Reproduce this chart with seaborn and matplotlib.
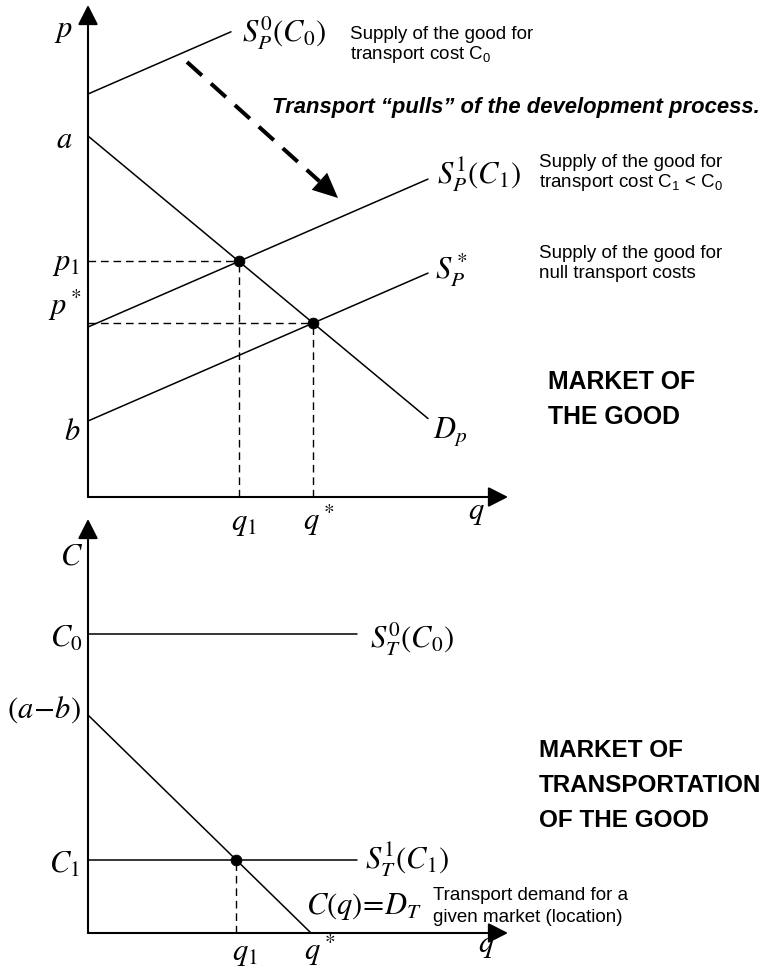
import numpy as np
import pandas as pd
import matplotlib
matplotlib.use("Agg")
import matplotlib.pyplot as plt
import seaborn as sns

# market of the good (top panel) - arbitrary units
q_max, p_max = 4.2, 4.92
a, b = 3.61, 0.76
supply_names = ["S0", "S1", "Sstar"]
supply_intercepts = [4.03, 1.70, 0.76]
supply_ends = [1.43, 3.40, 3.40]
supply_slope = 0.435
demand_slope = -0.831
demand_end = 3.40

# market of transportation (bottom panel)
c_max = 4.14
C0, C1 = 2.99, 0.73
a_minus_b = 2.18
q_star_T = 2.23
flat_end = 2.69

# the big dashed "pulls" arrow (start / tip, top panel units)
pull_start = [0.99, 4.35]
pull_tip = [2.50, 2.99]

sns.set_style("white")
plt.rcParams["font.family"] = ["Liberation Sans", "DejaVu Sans"]
plt.rcParams["text.color"] = "black"
plt.rcParams["mathtext.fontset"] = "custom"
plt.rcParams["mathtext.rm"] = "Liberation Sans"
plt.rcParams["mathtext.it"] = "Liberation Sans:italic"
plt.rcParams["mathtext.bf"] = "Liberation Sans:bold"

W, H = 778, 975
fig = plt.figure(figsize=(W / 100, H / 100), dpi=100)

top = fig.add_axes([88 / W, 1 - 497 / H, 420 / W, 492 / H])
bot = fig.add_axes([88 / W, 1 - 933 / H, 420 / W, 414 / H])
top.set_xlim(0, q_max)
top.set_ylim(0, p_max)
bot.set_xlim(0, q_max)
bot.set_ylim(0, c_max)
for ax in (top, bot):
    ax.set_axis_off()

dash = (0, (5.5, 3.5))


def axis_arrows(ax, xm, ym):
    kw = dict(arrowstyle="-|>,head_length=0.55,head_width=0.28", lw=1.5,
              color="black", shrinkA=0, shrinkB=0, mutation_scale=22)
    ax.annotate("", xy=(xm, 0), xytext=(0, 0), arrowprops=kw, annotation_clip=False)
    ax.annotate("", xy=(0, ym), xytext=(0, 0), arrowprops=kw, annotation_clip=False)


def mlabel(ax, x, y, s, ha="left", va="center", size=22):
    ax.text(x, y, s, ha=ha, va=va, fontsize=size, math_fontfamily="stix",
            color="black", clip_on=False)


def ftext(x, y, lines, pitch, size=13.5, **kw):
    # plain text block, one baseline per line, pixel coords
    for i, line in enumerate(lines):
        fig.text(x / W, 1 - (y + i * pitch) / H, line, fontsize=size,
                 ha="left", va="baseline", color="black", **kw)


# ---------- top panel: market of the good
rows = []
for name, c, qe in zip(supply_names, supply_intercepts, supply_ends):
    rows += [(name, 0.0, c), (name, qe, c + supply_slope * qe)]
rows += [("D", 0.0, a), ("D", demand_end, a + demand_slope * demand_end)]
good = pd.DataFrame(rows, columns=["curve", "q", "p"])
sns.lineplot(data=good, x="q", y="p", units="curve", estimator=None, sort=False,
             color="black", lw=1.1, ax=top, legend=False, clip_on=False)

q1 = (a - supply_intercepts[1]) / (supply_slope - demand_slope)
p1 = a + demand_slope * q1
qs = (a - b) / (supply_slope - demand_slope)
ps = a + demand_slope * qs

top.hlines([p1, ps], 0, [q1, qs], colors="black", lw=1.0, linestyles=dash)
top.vlines([q1, qs], 0, [p1, ps], colors="black", lw=1.0, linestyles=dash)
sns.scatterplot(x=[q1, qs], y=[p1, ps], color="black", s=60, ax=top,
                zorder=5, clip_on=False, edgecolor="black")
axis_arrows(top, q_max, p_max)

# dashed arrow "transport pulls"
d = np.array(pull_tip) - np.array(pull_start)
u = d / np.hypot(*d)
head_len, head_w = 0.25, 0.23
base = np.array(pull_tip) - head_len * u
top.plot([pull_start[0], base[0]], [pull_start[1], base[1]], color="black",
         lw=2.9, linestyle=(0, (5, 3)), solid_capstyle="butt", clip_on=False)
top.arrow(base[0], base[1], head_len * u[0], head_len * u[1], width=0,
          head_width=head_w, head_length=head_len, length_includes_head=True,
          fc="black", ec="black", lw=0, clip_on=False)

mlabel(top, -0.15, 4.67, "$p$", ha="right")
mlabel(top, -0.15, a - 0.04, "$a$", ha="right")
mlabel(top, -0.08, p1 - 0.02, "$p_1$", ha="right")
mlabel(top, -0.06, ps + 0.18, "$p^*$", ha="right")
mlabel(top, -0.08, b - 0.11, "$b$", ha="right")
mlabel(top, q1 + 0.05, -0.33, "$q_1$", ha="center", va="baseline")
mlabel(top, qs + 0.06, -0.33, "$q^*$", ha="center", va="baseline")
mlabel(top, 3.88, -0.22, "$q$", ha="center", va="baseline")
mlabel(top, 1.54, 4.64, r"$S_P^0\left(C_0\right)$")
mlabel(top, 3.49, 3.22, r"$S_P^1\left(C_1\right)$")
mlabel(top, 3.47, 2.27, "$S_P^*$")
mlabel(top, 3.45, 0.65, "$D_p$")

# ---------- bottom panel: market of transportation
transport = pd.DataFrame({
    "curve": ["S0", "S0", "S1", "S1", "D", "D"],
    "q": [0, flat_end, 0, flat_end, 0, q_star_T],
    "C": [C0, C0, C1, C1, a_minus_b, 0],
})
sns.lineplot(data=transport, x="q", y="C", units="curve", estimator=None, sort=False,
             color="black", lw=1.1, ax=bot, legend=False, clip_on=False)
q1T = (a_minus_b - C1) * q_star_T / a_minus_b
bot.vlines([q1T], 0, [C1], colors="black", lw=1.0, linestyles=dash)
sns.scatterplot(x=[q1T], y=[C1], color="black", s=60, ax=bot, zorder=5,
                clip_on=False, edgecolor="black")
axis_arrows(bot, q_max, c_max)

mlabel(bot, -0.05, 3.76, "$C$", ha="right")
mlabel(bot, -0.06, C0 - 0.05, "$C_0$", ha="right")
mlabel(bot, -0.07, a_minus_b + 0.05, r"$\left(a\!-\!b\right)$", ha="right")
mlabel(bot, -0.08, C1 - 0.05, "$C_1$", ha="right")
mlabel(bot, q1T + 0.09, -0.27, "$q_1$", ha="center", va="baseline")
mlabel(bot, q_star_T + 0.09, -0.27, "$q^*$", ha="center", va="baseline")
mlabel(bot, 3.98, -0.19, "$q$", ha="center", va="baseline")
mlabel(bot, 2.82, C0 - 0.05, r"$S_T^0\left(C_0\right)$")
mlabel(bot, 2.77, C1, r"$S_T^1\left(C_1\right)$")
mlabel(bot, 2.18, 0.27, r"$C\left(q\right)\!=\!D_T$")

# ---------- free text
ftext(350, 39, ["Supply of the good for", "transport cost C$_0$"], 20)
ftext(539, 167, ["Supply of the good for", "transport cost C$_1$ < C$_0$"], 20)
ftext(539, 258, ["Supply of the good for", "null transport costs"], 20)
ftext(433, 900, ["Transport demand for a", "given market (location)"], 22)
ftext(272, 113, ["Transport \u201cpulls\u201d of the development process."], 0,
      size=15.8, fontweight="bold", fontstyle="italic")
ftext(548, 389, ["MARKET OF", "THE GOOD"], 35, size=17.8, fontweight="bold")
ftext(539, 757, ["MARKET OF", "TRANSPORTATION", "OF THE GOOD"], 35,
      size=17.5, fontweight="bold")

fig.savefig("out.png", dpi=100)
